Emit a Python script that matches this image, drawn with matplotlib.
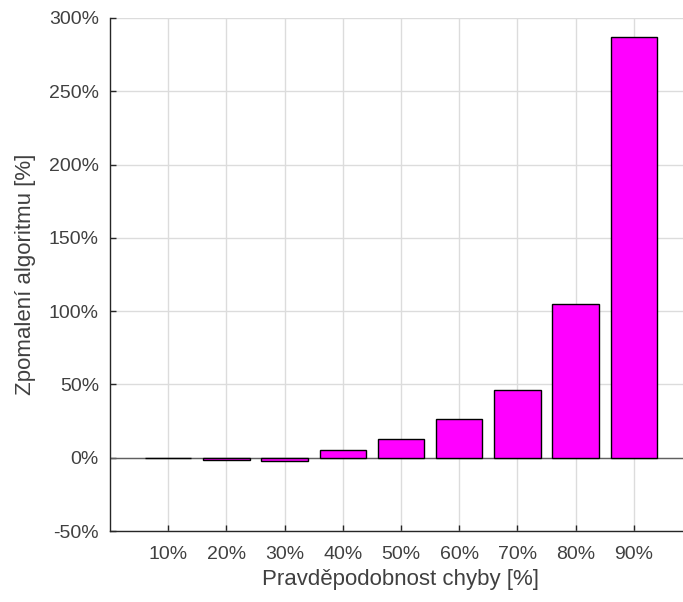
import matplotlib
matplotlib.use("Agg")
import matplotlib.pyplot as plt
from matplotlib.ticker import FuncFormatter

plt.rcParams['font.family'] = ['Liberation Sans', 'DejaVu Sans']

# error probability (x) and slowdown of the algorithm (y), both in %
probabilities = [10, 20, 30, 40, 50, 60, 70, 80, 90]
slowdown = [-0.2, -1.3, -2.2, 5.2, 12.6, 26.7, 46.0, 105.0, 287.0]
y_ticks = [-50, 0, 50, 100, 150, 200, 250, 300]

text_color = "#404040"

fig = plt.figure(figsize=(6.83, 6.02), dpi=100)
ax = fig.add_axes([110 / 683, 71 / 602, 582 / 683, 513 / 602])

positions = list(range(1, len(probabilities) + 1))
ax.bar(positions, slowdown, width=0.8, color="#ff00ff",
       edgecolor="black", linewidth=1.0, zorder=3)
ax.axhline(0, color="#606060", linewidth=1.0, zorder=2)

ax.set_xlim(0, 10)
ax.set_ylim(-50, 300)
ax.set_xticks(positions)
ax.set_xticklabels([f"{p}%" for p in probabilities])
ax.set_yticks(y_ticks)
ax.yaxis.set_major_formatter(FuncFormatter(lambda v, _: f"{v:.0f}%"))

ax.grid(True, color="#dcdcdc", linewidth=1.0, zorder=0)
ax.set_axisbelow(True)
for side in ("top", "right"):
    ax.spines[side].set_visible(False)
for side in ("left", "bottom"):
    ax.spines[side].set_color("#262626")
    ax.spines[side].set_linewidth(1.0)

ax.tick_params(direction="in", length=4, width=1.0, color="#262626",
               labelsize=14, labelcolor=text_color)
ax.tick_params(axis="y", pad=8)
ax.tick_params(axis="x", pad=11)

ax.set_xlabel("Pravděpodobnost chyby [%]", fontsize=16, color=text_color, labelpad=4)
ax.set_ylabel("Zpomalení algoritmu [%]", fontsize=16, color=text_color, labelpad=9)

fig.savefig("out.png", dpi=100)
